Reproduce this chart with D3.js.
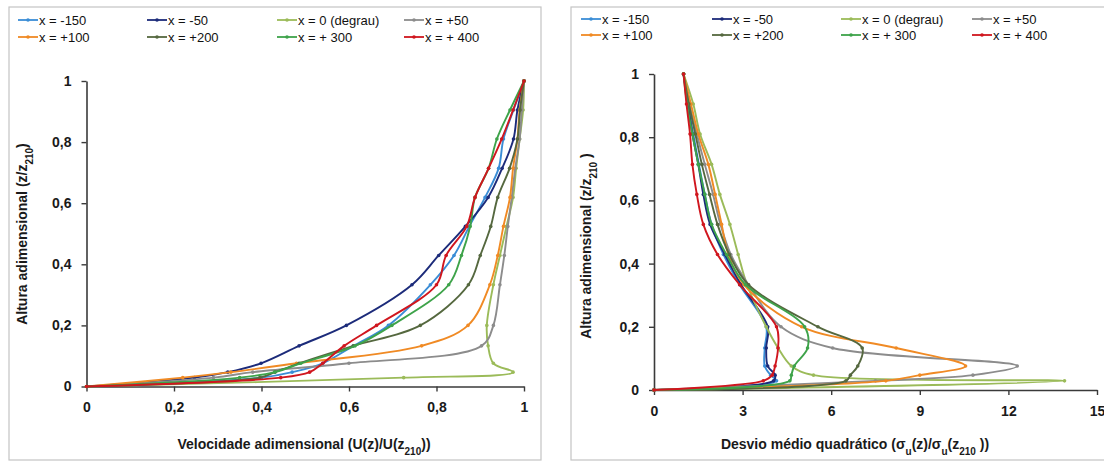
<!DOCTYPE html>
<html><head><meta charset="utf-8">
<script src="https://cdn.jsdelivr.net/npm/d3@7"></script>
<style>
body{margin:0;background:#fff}
svg{display:block}
text{font-family:"Liberation Sans",Arial,sans-serif}
</style>
</head><body>
<svg id="chart" width="1104" height="462"></svg>
<script>
// ---------- DATA ----------
const heights = [0, 0.029, 0.047, 0.076, 0.133, 0.2, 0.333, 0.429, 0.524, 0.619, 0.714, 0.81, 0.905, 1];
const seriesNames = ["x = -150", "x = -50", "x = 0 (degrau)", "x = +50", "x = +100", "x = +200", "x = + 300", "x = + 400"];
const seriesColors = ["#3a8dd6", "#1c2b7a", "#9bbb59", "#8c8c8c", "#f08a24", "#55683f", "#3ea34a", "#d0161e"];

// Left chart: U(z)/U(z210)
const velM150 = [0, 0.40, 0.47, 0.54, 0.61, 0.69, 0.786, 0.84, 0.875, 0.911, 0.942, 0.953, 0.976, 1];
const velM50  = [0, 0.247, 0.323, 0.399, 0.486, 0.594, 0.744, 0.805, 0.866, 0.918, 0.950, 0.976, 0.985, 1];
const velP0   = [0, 0.725, 0.975, 0.930, 0.918, 0.915, 0.930, 0.945, 0.960, 0.975, 0.982, 0.990, 0.998, 1];
const velP50  = [0, 0.29, 0.38, 0.60, 0.903, 0.930, 0.945, 0.955, 0.963, 0.972, 0.980, 0.990, 0.995, 1];
const velP100 = [0, 0.22, 0.33, 0.48, 0.766, 0.872, 0.922, 0.940, 0.953, 0.968, 0.975, 0.985, 0.990, 1];
const velP200 = [0, 0.396, 0.431, 0.486, 0.61, 0.763, 0.873, 0.900, 0.924, 0.940, 0.967, 0.985, 0.991, 1];
const velP300 = [0, 0.35, 0.43, 0.49, 0.614, 0.698, 0.828, 0.857, 0.877, 0.888, 0.919, 0.938, 0.968, 1];
const velP400 = [0, 0.444, 0.51, 0.54, 0.589, 0.663, 0.80, 0.822, 0.869, 0.888, 0.919, 0.949, 0.975, 1];

// Right chart: sigma_u(z)/sigma_u(z210)
const sigM150 = [0, 4.15, 3.95, 3.75, 3.75, 3.80, 2.90, 2.35, 1.95, 1.72, 1.52, 1.33, 1.15, 1.0];
const sigM50  = [0, 4.05, 4.10, 3.85, 3.80, 3.85, 2.95, 2.40, 1.90, 1.67, 1.50, 1.30, 1.15, 1.0];
const sigP0   = [0, 13.9, 5.40, 4.65, 4.20, 3.80, 3.15, 2.85, 2.57, 2.23, 1.95, 1.56, 1.33, 1.0];
const sigP50  = [0, 7.5, 10.8, 12.3, 6.05, 4.30, 3.20, 2.60, 2.25, 2.00, 1.72, 1.45, 1.20, 1.0];
const sigP100 = [0, 7.85, 9.00, 10.55, 8.20, 5.00, 3.05, 2.52, 2.29, 2.07, 1.84, 1.50, 1.25, 1.0];
const sigP200 = [0, 6.50, 6.65, 6.90, 7.05, 5.55, 3.20, 2.55, 2.15, 1.88, 1.62, 1.40, 1.18, 1.0];
const sigP300 = [0, 4.60, 4.65, 4.75, 5.20, 5.10, 3.10, 2.45, 1.95, 1.72, 1.50, 1.30, 1.12, 1.0];
const sigP400 = [0, 3.70, 4.00, 4.10, 4.20, 4.15, 2.90, 2.15, 1.67, 1.45, 1.30, 1.22, 1.10, 1.0];

const leftXTicks = [0, 0.2, 0.4, 0.6, 0.8, 1];
const rightXTicks = [0, 3, 6, 9, 12, 15];
const yTicks = [0, 0.2, 0.4, 0.6, 0.8, 1];

const velSeries = [velM150, velM50, velP0, velP50, velP100, velP200, velP300, velP400];
const sigSeries = [sigM150, sigM50, sigP0, sigP50, sigP100, sigP200, sigP300, sigP400];

// ---------- DRAW ----------
const svg = d3.select("#chart");
const fmt = d => String(d).replace(".", ",");

function panel(cfg) {
  const g = svg.append("g");
  g.append("rect").attr("x", cfg.box[0]).attr("y", cfg.box[1])
    .attr("width", cfg.box[2]).attr("height", cfg.box[3])
    .attr("fill", "#fff").attr("stroke", "#c4c4c4").attr("stroke-width", 1.2);

  const x = d3.scaleLinear().domain(cfg.xDomain).range(cfg.xRange);
  const y = d3.scaleLinear().domain([0, 1]).range(cfg.yRange);

  const xa = g.append("g").attr("transform", `translate(0,${cfg.yRange[0]})`)
    .call(d3.axisBottom(x).tickValues(cfg.xTicks).tickSize(5).tickPadding(11).tickFormat(fmt).tickSizeOuter(0));
  const ya = g.append("g").attr("transform", `translate(${cfg.xRange[0]},0)`)
    .call(d3.axisLeft(y).tickValues(yTicks).tickSize(5).tickPadding(10).tickFormat(fmt).tickSizeOuter(0));
  [xa, ya].forEach(a => {
    a.select(".domain").attr("stroke", "#3a3a3a").attr("stroke-width", 1.6);
    a.selectAll(".tick line").attr("stroke", "#3a3a3a").attr("stroke-width", 1.4);
    a.selectAll(".tick text").attr("fill", "#1a1a1a").style("font-size", "14px").style("font-weight", "bold");
  });

  const line = d3.line().x(d => x(d[0])).y(d => y(d[1])).curve(d3.curveCatmullRom.alpha(0.5));
  cfg.series.forEach((vals, i) => {
    const pts = vals.map((v, k) => [v, heights[k]]);
    g.append("path").attr("d", line(pts)).attr("fill", "none")
      .attr("stroke", seriesColors[i]).attr("stroke-width", 1.9);
    g.selectAll(null).data(pts).enter().append("circle")
      .attr("cx", d => x(d[0])).attr("cy", d => y(d[1])).attr("r", 1.8)
      .attr("fill", seriesColors[i]);
  });

  seriesNames.forEach((name, i) => {
    const col = i % 4, row = Math.floor(i / 4);
    const lx = cfg.legCols[col], ly = cfg.legRows[row];
    g.append("line").attr("x1", lx).attr("x2", lx + 20).attr("y1", ly).attr("y2", ly)
      .attr("stroke", seriesColors[i]).attr("stroke-width", 1.8);
    g.append("circle").attr("cx", lx + 10).attr("cy", ly).attr("r", 1.8).attr("fill", seriesColors[i]);
    g.append("text").attr("x", lx + 21).attr("y", ly).attr("dy", "0.35em")
      .style("font-size", "13px").attr("fill", "#111").text(name);
  });

  const xt = g.append("text").attr("x", cfg.xTitlePos[0]).attr("y", cfg.xTitlePos[1])
    .attr("text-anchor", "middle").style("font-size", "14px").style("font-weight", "bold").attr("fill", "#1a1a1a");
  cfg.xTitle.forEach(p => {
    const t = xt.append("tspan").text(p[0]);
    if (p[1]) t.attr("baseline-shift", "sub").style("font-size", "10px");
  });
  const yt = g.append("text").attr("transform", `translate(${cfg.yTitlePos[0]},${cfg.yTitlePos[1]}) rotate(-90)`)
    .attr("text-anchor", "middle").style("font-size", "14px").style("font-weight", "bold").attr("fill", "#1a1a1a");
  cfg.yTitle.forEach(p => {
    const t = yt.append("tspan").text(p[0]);
    if (p[1]) t.attr("baseline-shift", "sub").style("font-size", "10px");
  });
}

panel({
  box: [9, 7, 532, 453],
  xDomain: [0, 1], xRange: [86.5, 524], yRange: [386.5, 81],
  xTicks: leftXTicks, series: velSeries,
  legCols: [18, 147, 277, 404], legRows: [20, 37],
  xTitlePos: [304, 449],
  xTitle: [["Velocidade adimensional (U(z)/U(z"], ["210", true], ["))"]],
  yTitlePos: [27, 234],
  yTitle: [["Altura adimensional (z/z"], ["210", true], [")"]]
});

panel({
  box: [571, 7, 540, 453],
  xDomain: [0, 15], xRange: [654, 1097], yRange: [390, 74],
  xTicks: rightXTicks, series: sigSeries,
  legCols: [581, 712, 841, 972], legRows: [19, 35],
  xTitlePos: [855, 449],
  xTitle: [["Desvio médio quadrático ("], ["σ"], ["u", true], ["(z)/"], ["σ"], ["u", true], ["(z"], ["210", true], [" ))"]],
  yTitlePos: [591, 246],
  yTitle: [["Altura adimensional (z/z"], ["210", true], [" )"]]
});
</script>
</body></html>
